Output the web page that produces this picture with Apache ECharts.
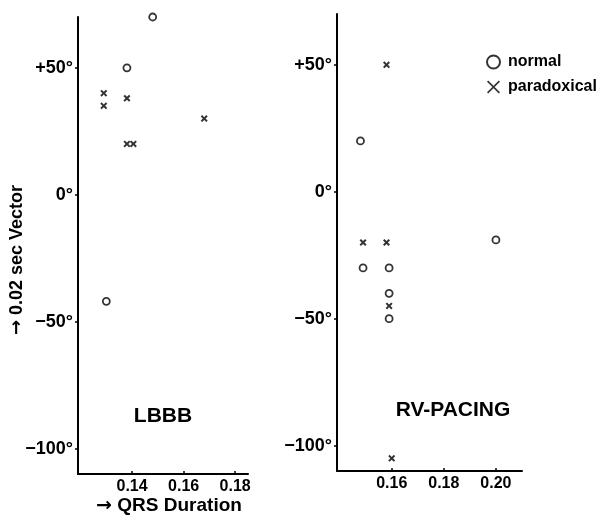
<!DOCTYPE html>
<html>
<head>
<meta charset="utf-8">
<script src="https://cdn.jsdelivr.net/npm/echarts@6/dist/echarts.min.js"></script>
<style>
  html, body { margin: 0; padding: 0; background: #fff; }
  #chart { width: 604px; height: 517px; }
</style>
</head>
<body>
<div id="chart"></div>
<script>
// data: [QRS duration (s), 0.02 sec vector (deg)]
const lbbbNormal = [[0.148, 70], [0.138, 50], [0.130, -42]]
const lbbbParadoxical = [[0.129, 40], [0.129, 35], [0.138, 38], [0.138, 20], [0.1405, 20], [0.168, 30]]
const rvNormal = [[0.148, 20], [0.200, -19], [0.149, -30], [0.159, -30], [0.159, -40], [0.159, -50]]
const rvParadoxical = [[0.158, 50], [0.149, -20], [0.158, -20], [0.159, -45], [0.160, -105]]

const yTicks = [-100, -50, 0, 50]
const lbbbXTicks = [0.14, 0.16, 0.18]
const rvXTicks = [0.16, 0.18, 0.20]
const panelNames = ['LBBB', 'RV-PACING']

const crossBold = 'path://M0,2L2,0L5,3L8,0L10,2L7,5L10,8L8,10L5,7L2,10L0,8L3,5Z'
const crossThin = 'path://M0,0.9L0.9,0L5,4.1L9.1,0L10,0.9L5.9,5L10,9.1L9.1,10L5,5.9L0.9,10L0,9.1L4.1,5Z'

const black = '#000'
const sans = "'Liberation Sans', Arial, sans-serif"
const arrowFont = "'DejaVu Sans', sans-serif"

let yLabel = v => v > 0 ? '+' + v + '°' : (v < 0 ? '−' + (-v) + '°' : '0°')

let xAxisOf = (grid, min, max, ticks) => ({
    type: 'value', gridIndex: grid, min: min, max: max,
    axisLine: { onZero: false, lineStyle: { color: black, width: 2 } },
    axisTick: { customValues: ticks, inside: true, length: 3, lineStyle: { color: black, width: 1.5 } },
    axisLabel: {
        customValues: ticks, margin: 5, color: black,
        fontFamily: sans, fontWeight: 'bold', fontSize: 16,
        formatter: v => v.toFixed(2)
    },
    splitLine: { show: false }
})

let yAxisOf = grid => ({
    type: 'value', gridIndex: grid, min: -110, max: 70,
    axisLine: { show: true, onZero: false, lineStyle: { color: black, width: 2 } },
    axisTick: { show: true, customValues: yTicks, length: 3, lineStyle: { color: black, width: 1.5 } },
    axisLabel: {
        customValues: yTicks, margin: 5, color: black,
        fontFamily: sans, fontWeight: 'bold', fontSize: 18,
        formatter: yLabel
    },
    splitLine: { show: false }
})

let normalStyle = { color: '#fff', borderColor: black, borderWidth: 1.8 }
let crossStyle = { color: black }

// titles with a full size arrow in front
let arrowTitle = (text, size) => ({
    text: '{a|→} ' + text,
    fill: black, font: 'bold ' + size + 'px ' + sans,
    textAlign: 'center', textVerticalAlign: 'middle',
    rich: { a: { fontFamily: arrowFont, fontSize: size, fontWeight: 'bold', fill: black } }
})

echarts.init(document.getElementById('chart')).setOption({
    animation: false,
    backgroundColor: '#fff',
    grid: [
        { left: 78, top: 17, width: 170, height: 457 },
        { left: 337, top: 14, width: 185, height: 457 }
    ],
    xAxis: [
        xAxisOf(0, 0.119, 0.185, lbbbXTicks),
        xAxisOf(1, 0.139, 0.210, rvXTicks)
    ],
    yAxis: [yAxisOf(0), yAxisOf(1)],
    legend: {
        orient: 'vertical', left: 481, top: 47,
        itemWidth: 13, itemHeight: 13, itemGap: 5,
        textStyle: { color: black, fontFamily: sans, fontWeight: 'bold', fontSize: 16, lineHeight: 20, padding: [0, 0, 0, 3] },
        data: [
            { name: 'normal', icon: 'circle', itemStyle: { color: '#fff', borderColor: black, borderWidth: 2 } },
            { name: 'paradoxical', icon: crossThin, itemStyle: { color: black, borderWidth: 0 } }
        ]
    },
    graphic: [
        { type: 'text', x: 17, y: 260, rotation: Math.PI / 2, style: arrowTitle('0.02 sec Vector', 18) },
        { type: 'text', x: 169, y: 506, style: arrowTitle('QRS Duration', 19) },
        {
            type: 'text', x: 163, y: 416,
            style: { text: panelNames[0], fill: black, font: 'bold 21px ' + sans, textAlign: 'center', textVerticalAlign: 'middle' }
        },
        {
            type: 'text', x: 453, y: 410,
            style: { text: panelNames[1], fill: black, font: 'bold 21px ' + sans, textAlign: 'center', textVerticalAlign: 'middle' }
        }
    ],
    series: [
        { name: 'normal', type: 'scatter', xAxisIndex: 0, yAxisIndex: 0, clip: false, symbol: 'circle', symbolSize: 7, itemStyle: normalStyle, data: lbbbNormal },
        { name: 'paradoxical', type: 'scatter', xAxisIndex: 0, yAxisIndex: 0, clip: false, symbol: crossBold, symbolSize: 7, itemStyle: crossStyle, data: lbbbParadoxical },
        { name: 'normal', type: 'scatter', xAxisIndex: 1, yAxisIndex: 1, clip: false, symbol: 'circle', symbolSize: 7, itemStyle: normalStyle, data: rvNormal },
        { name: 'paradoxical', type: 'scatter', xAxisIndex: 1, yAxisIndex: 1, clip: false, symbol: crossBold, symbolSize: 7, itemStyle: crossStyle, data: rvParadoxical }
    ]
})
</script>
</body>
</html>
